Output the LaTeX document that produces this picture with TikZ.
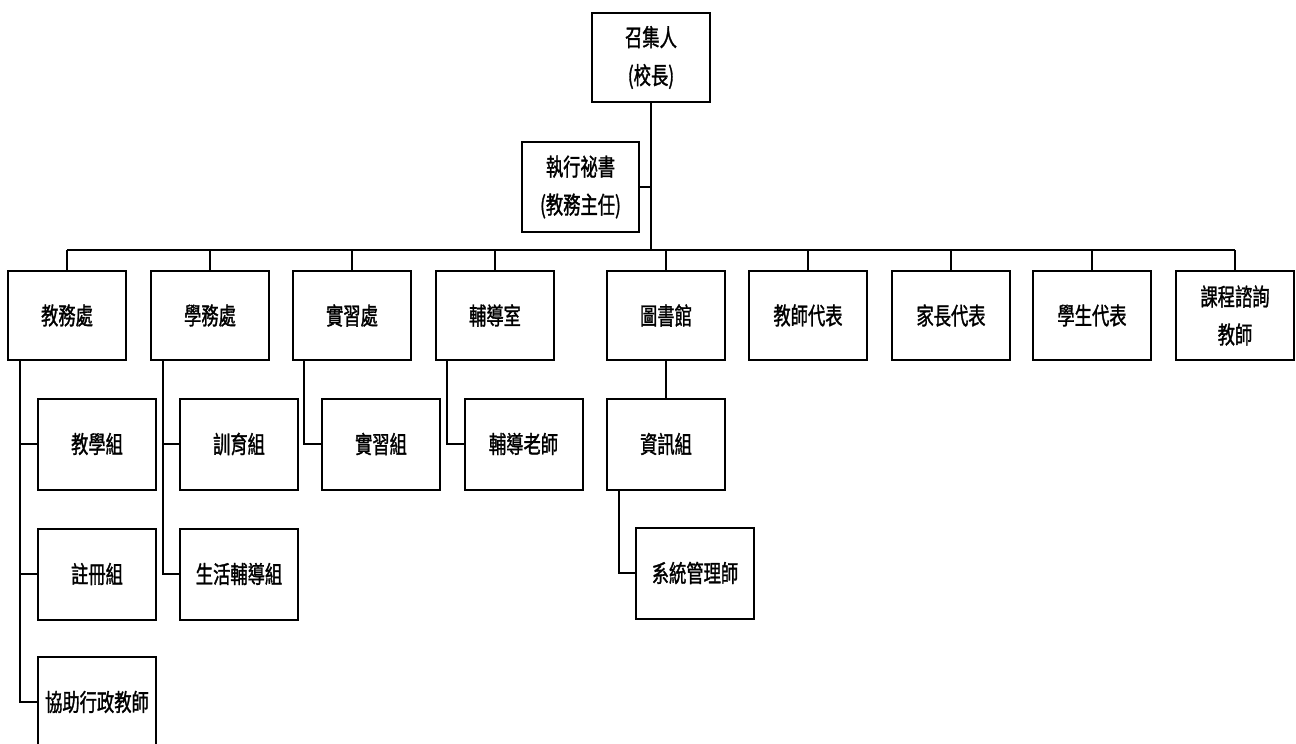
\documentclass[tikz,border=0pt]{standalone}
\usepackage{fontspec}
\newfontfamily\cjk[FakeStretch=0.72,FakeBold=1.3]{Noto Sans CJK TC}
\begin{document}
\begin{tikzpicture}[x=1pt,y=1pt,
  box/.style={draw, line width=2pt, minimum width=118pt, minimum height=89pt, inner sep=0pt, align=center, font=\cjk\fontsize{24}{38}\selectfont},
  conn/.style={line width=1.8pt}]
\useasboundingbox (0,0) rectangle (1296,-744);
\clip (0,0) rectangle (1296,-744);
% top
\node[box] (top) at (651,-57.5) {召集人\\(校長)};
\node[box, minimum width=117pt, minimum height=90pt] (sec) at (580.5,-187) {執行祕書\\(教務主任)};
\coordinate (bus) at (651,-250);
% row
\node[box] (a) at (67,-315.5) {教務處};
\node[box] (b) at (210,-315.5) {學務處};
\node[box] (c) at (352,-315.5) {實習處};
\node[box] (d) at (495,-315.5) {輔導室};
\node[box] (e) at (666,-315.5) {圖書館};
\node[box] (f) at (808,-315.5) {教師代表};
\node[box] (g) at (951,-315.5) {家長代表};
\node[box] (h) at (1092,-315.5) {學生代表};
\node[box] (i) at (1235,-315.5) {課程諮詢\\教師};
% sub
\node[box, minimum height=91pt] (a1) at (97,-444) {教學組};
\node[box, minimum height=91pt] (a2) at (97,-574) {註冊組};
\node[box, minimum height=91pt] (a3) at (97,-702) {協助行政教師};
\node[box, minimum height=91pt] (b1) at (239,-444) {訓育組};
\node[box, minimum height=91pt] (b2) at (239,-574) {生活輔導組};
\node[box, minimum height=91pt] (c1) at (381,-444) {實習組};
\node[box, minimum height=91pt] (d1) at (523.5,-444) {輔導老師};
\node[box, minimum height=91pt] (e1) at (666,-444) {資訊組};
\node[box, minimum height=91pt] (e2) at (695,-573) {系統管理師};
% connectors
\draw[conn] (top.south) -- (bus);
\draw[conn] (sec.east) -- (sec.east -| top.south);
\draw[conn] (a.north |- bus) -- (i.north |- bus);
\foreach \n in {a,b,c,d,e,f,g,h,i} \draw[conn] (\n.north) -- (\n.north |- bus);
\draw[conn] ([xshift=-47pt]a.south) |- (a1.west);
\draw[conn] ([xshift=-47pt]a.south) |- (a2.west);
\draw[conn] ([xshift=-47pt]a.south) |- (a3.west);
\draw[conn] ([xshift=-47pt]b.south) |- (b1.west);
\draw[conn] ([xshift=-47pt]b.south) |- (b2.west);
\draw[conn] ([xshift=-48pt]c.south) |- (c1.west);
\draw[conn] ([xshift=-48pt]d.south) |- (d1.west);
\draw[conn] (e.south) -- (e1.north);
\draw[conn] ([xshift=-47pt]e1.south) |- (e2.west);
\end{tikzpicture}
\end{document}
